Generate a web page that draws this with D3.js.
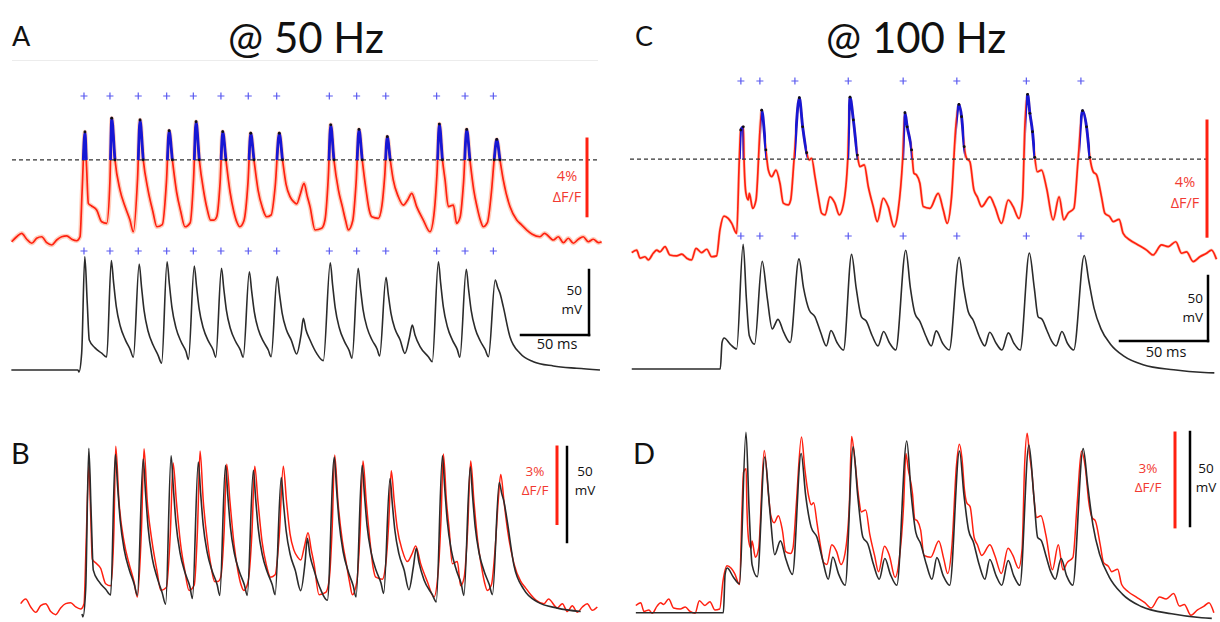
<!DOCTYPE html>
<html>
<head>
<meta charset="utf-8">
<script src="https://cdn.jsdelivr.net/npm/d3@7"></script>
<style>
  body { margin: 0; background: #fff; }
  svg { display: block; }
</style>
</head>
<body>
<script>
// ---- data (time in ms, Vm in mV, fluorescence in % dF/F) ----

// 50 Hz train: membrane potential
const vm50 = [
  [1,-65],[50,-65],[50.7,-66.5],[52.7,-52],[55,22.2],[56.8,-13.5],[58.3,-41.9],[62.5,-48],[67.4,-52],[71.1,-55],
  [74.5,19.1],[76.2,2],[78.1,-15.8],[81.1,-31.4],[84.8,-41.8],[88.4,-49.3],[90.7,-55.2],
  [95,16.5],[96.7,-1],[98.6,-19.4],[101.6,-35.4],[105.3,-46],[108.9,-53.7],[111.5,-59.8],
  [115.5,18.3],[117.2,1],[119.1,-17],[122.1,-32.8],[125.8,-43.3],[129.4,-50.8],[131.2,-56.8],
  [135.5,15],[137.2,-1.1],[139.1,-18],[142.1,-32.7],[145.8,-42.6],[149.4,-49.6],[151.3,-55.2],
  [155.5,13.2],[157.2,-2.5],[159.1,-19],[162.1,-33.3],[165.8,-42.9],[169.4,-49.7],[171.5,-55.2],
  [176,10.6],[177.7,-4.4],[179.6,-20.1],[182.6,-33.9],[186.3,-43],[189.9,-49.6],[192,-54.8],
  [196.5,6.8],[198.2,-6.9],[200.1,-21.2],[203.1,-33.7],[206.8,-42],[210.8,-52.7],[214,-38],[215.7,-25.2],
  [217.6,-34],[220.6,-41.9],[225.5,-52.2],[230.4,-57.8],
  [235.5,17.5],[237.2,0.6],[239.1,-17],[242.1,-32.5],[245.8,-42.8],[249.4,-50.1],[251.5,-56],
  [256,13.2],[257.7,-2.3],[259.6,-18.5],[262.6,-32.6],[266.3,-42.1],[269.9,-48.8],[271.8,-54.2],
  [276.5,6.3],[278.2,-7.2],[280.1,-21.2],[283.1,-33.5],[286.8,-41.7],[290.4,-52.2],[293.7,-40],[295.8,-30.4],
  [297.8,-38],[301.5,-47.1],[307.6,-54.8],[310.5,-58.6],
  [315,18.3],[316.7,1.4],[318.6,-16.2],[321.6,-31.7],[325.3,-42],[328.9,-49.3],[330.8,-55.2],
  [335.5,12.5],[337.2,-3],[339.1,-19.1],[342.1,-33.3],[345.8,-42.7],[349.4,-49.4],[351.8,-54.8],
  [356.8,4.2],[358.6,-1.5],[360.3,-6],[362.7,-16.3],[367.6,-39.4],[375,-52.2],[384.8,-58.6],
  [399.5,-61.9],[416.7,-63.7],[433.8,-65]
];

// 50 Hz train: calcium signal
const dff50 = [
  [1.2,-0.09],[4.9,0.17],[8.6,0.35],[12.3,0.04],[16,-0.17],[19.6,0.09],[23.3,0.17],[27,-0.14],[30.7,-0.26],
  [34.3,0],[38,0.17],[41.7,0.21],[45.4,0.04],[49,-0.04],[51.5,0.17],
  [53,2.5],[55.1,5.63],[56.3,3.8],[57.6,1.91],[60,1.77],[63.7,1.56],[67.4,0.95],[71.1,0.87],[73.5,3.1],[74.8,6.34],
  [77.2,4.17],[80.9,2.6],[84.6,1.74],[88.2,1.04],[90.7,0.43],[93.8,3.2],[95.6,6.25],
  [98,4.17],[101.5,2.6],[105,1.5],[108,0.69],[112,0.8],[115,3],[117,5.69],
  [119.4,4.17],[122.5,2.5],[125.5,1.5],[128.7,0.69],[132.5,0.9],[135,3.2],[136.8,6.16],
  [139.2,4.17],[142.5,2.5],[145,1.6],[147.5,1.04],[150,1.04],[152,1.21],[154.5,3],[156.4,5.64],
  [158.8,4.17],[161.8,2.5],[164.5,1.5],[167,0.9],[169,0.69],[172,1],[175,3],[177,5.56],
  [179.4,4.17],[182.4,2.6],[185.5,1.7],[188.7,1.21],[192,1.3],[195,2.8],[198,5.56],
  [200.4,4.17],[203,2.9],[205.9,2.26],[208.5,2],[210.8,1.88],[213.5,2.4],[216.2,2.95],[218.5,2.3],[220.6,1.74],
  [224.3,0.52],[229.2,0.61],[231.6,1.04],[234,3.2],[235.8,6],
  [238.2,4.17],[241.5,2.6],[244.5,1.7],[246.8,1],[248.8,0.52],[252,1],[254.5,3],[256.6,5.76],
  [259,4.17],[262,2.5],[264,1.6],[266,1.21],[270.8,1.13],[273.5,1.8],[275.5,3.3],[277.4,5.38],
  [279.6,4.17],[281.8,3.13],[285.5,2.26],[289.2,1.82],[292.5,2.1],[295.4,2.43],[299,1.74],[303.9,1.04],
  [308.8,0.43],[312,1.5],[314,3.5],[315.7,6.04],
  [318,4.17],[319.9,3.13],[322.3,1.74],[326,1.82],[328.4,0.87],[331,1.2],[333.5,3],[335.8,5.76],
  [338.2,4.17],[341,2.6],[343.5,1.7],[346,1],[348,0.69],[351,0.9],[354,2.5],[356,4.17],[357.9,5.24],
  [360.3,4.17],[362.7,3.13],[367.6,1.74],[372.6,1.04],[376,0.8],[380,0.52],[384,0.3],[389.7,0.17],[393,0.35],
  [399.5,0],[403.2,0.17],[406.9,-0.14],[410.5,0.09],[414.2,-0.17],[417.9,0.04],[421.5,0.17],[425.2,-0.09],
  [428.9,0.04],[432.6,-0.14],[435,-0.09]
];

// 100 Hz train: membrane potential
const vm100 = [
  [1,-65],[51.3,-65],[52.3,-44.6],[53.5,-41.2],[57,-46],[60.6,-49.6],[64.3,31],[66.1,-10.4],[67.8,-39.4],[70.8,-45.9],
  [75.1,17.8],[78,-10.4],[80.8,-34.1],[84.1,-26.8],[87.3,-36.7],[91,-44.6],
  [96,19.7],[98.6,-2.6],[101.8,-19.6],[105.1,-24.9],[108.3,-36.7],[111.6,-47.2],[114.2,-35.4],[117.6,-44.6],[121.3,-50.4],
  [125.9,23.2],[128.5,-2.6],[131.5,-24.9],[134.3,-28.3],[137.6,-39.4],[140.9,-47.2],[144.1,-36.2],[147.3,-44.6],[151,-50.4],
  [156.7,26.3],[159.3,-2.6],[161.9,-22.3],[164.7,-28.3],[168,-39.4],[171.2,-47.2],[174,-35.7],[177.7,-45.4],[181.4,-50.4],
  [187,21],[189.6,-2.6],[192.2,-21],[195,-27.5],[198.3,-39.4],[201.6,-47.2],[204.4,-36.7],[208.1,-45.4],[211.3,-50.4],
  [215,-37.2],[218.2,-45.4],[221.7,-50.4],
  [226.9,24.2],[229.7,-2.6],[231.9,-24.9],[234.1,-26.8],[236.9,-35.4],[239.5,-43.3],[242.1,-47.2],[245.4,-36.2],
  [248.6,-45.4],[252.1,-50.4],
  [258.1,22.3],[260.7,2.7],[263.7,-18.4],[267.6,-34.1],[273,-45.9],[280.6,-55.1],[291.5,-61.7],[308.9,-65.6],
  [326.2,-67.7],[332,-68]
];

// 100 Hz train: calcium signal
const dff100 = [
  [1,0.08],[3.8,0.17],[5.7,-0.11],[8.5,-0.06],[10.4,-0.17],[13.2,0.06],[15.2,0.17],[17,0.11],[19.9,0.29],[22.7,0],
  [26.5,-0.03],[29.4,0.03],[32.2,-0.11],[35,-0.17],[37.5,0.23],[40.7,0.08],[43.6,0.2],[46.4,-0.06],[49.2,-0.03],
  [51.1,0.87],[53.4,1.35],[55.8,1.27],[57.8,1.1],[60.6,0.75],[62.1,3.3],[62.9,4.34],[64.4,4.45],[64.8,3.3],
  [65.9,2.14],[67.2,1.91],[67.8,2.14],[69.7,1.62],[71.6,1.91],[74.8,5.03],[77.2,3.65],[78.6,2.95],[80.5,2.72],
  [82.9,2.95],[85.2,2.49],[87.1,1.8],[89.9,1.74],[91.3,1.91],[93.2,3.3],[96.2,5.46],[98.1,4.45],[100.4,3.55],
  [101.8,3.3],[103.2,3.36],[105.1,2.72],[107,2.02],[108.9,1.45],[110.8,1.39],[113.6,2.02],[116.4,1.8],[118.9,1.39],
  [121.2,1.74],[123.7,3.3],[125,5.48],[126.9,4.69],[129.2,3.47],[130.6,3.07],[133.1,3.13],[135.4,2.37],[138.2,1.68],
  [140.5,1.16],[143.9,1.97],[146.7,1.68],[150,0.98],[152.4,1.56],[154.9,3.3],[156.2,4.94],[157.5,4.45],[160,3.65],
  [161.3,2.84],[162.8,2.78],[164.7,2.49],[166.6,1.68],[170.4,1.62],[175.1,2.14],[178,1.56],[180.2,1.1],[182.7,2.02],
  [185.2,4.51],[186.9,5.23],[188.4,4.8],[189.9,3.76],[191.2,3.36],[193.1,3.24],[195.4,2.26],[197.3,2.02],[199.8,1.68],
  [204.5,2.02],[207.3,1.68],[211.1,1.1],[214.9,1.91],[217.7,1.68],[221,1.27],[223,1.91],[224.4,4.51],[225.9,5.58],
  [227.2,4.92],[228.7,4.28],[230,3.39],[231.4,2.89],[233.8,2.95],[236.7,2.32],[240.4,1.22],[243.8,2.02],[246.5,1.22],
  [248.9,1.45],[252.2,1.62],[254.6,3.3],[257.1,5.01],[259.4,4.45],[261.3,3.39],[263.2,2.89],[265.1,2.78],[267.9,2.02],
  [269.8,1.45],[272.6,1.33],[274.5,1.16],[277.9,1.24],[280.2,0.75],[284,0.52],[288.7,0.35],[293.5,0.17],[297.2,0],
  [302,0.35],[305.8,0.29],[310.1,0.46],[313.4,0.06],[316.2,0.11],[320,-0.23],[323.8,-0.06],[327.6,0.06],
  [330.4,0.17],[333.2,-0.15]
];

// detected events (stimulus-locked markers), ms
const marks50 = [54.4, 73.5, 94.3, 115.2, 134.8, 155.1, 175.2, 196.1, 234.8, 254.9, 276.3, 313.7, 334.6, 355.4];
const marks100 = [63, 73.8, 93.7, 124, 155.2, 185.7, 225.2, 256.2];

// event windows shown in blue, ms
const events50 = [[0, 440]];
const events100 = [[62.5, 64.5], [74.3, 77.3], [93.7, 100.5], [123.9, 129.3], [155.4, 160.1], [185.6, 190], [224.9, 230.1], [255.6, 261.4]];

// detection thresholds, % dF/F
const thr50 = 4.17;
const thr100 = 3.33;

// ---- drawing ----
const RED = '#ff2010';
const RED_TXT = '#f23a32';
const RAW = '#ffa07c';
const BLUE = '#1717d4';
const MARK = '#5a5af0';
const INK = '#2b2b2b';

const svg = d3.select('body').append('svg').attr('width', 1220).attr('height', 622);
const defs = svg.append('defs');

const lineOf = (x, y) => d3.line().x(d => x(d[0])).y(d => y(d[1])).curve(d3.curveMonotoneX);

function label(txt, x, y, size, opts = {}) {
  return svg.append('text')
    .attr('x', x).attr('y', y)
    .attr('font-family', opts.family || "'Open Sans', 'Noto Sans', sans-serif")
    .attr('font-size', size)
    .attr('text-anchor', opts.anchor || 'start')
    .attr('fill', opts.fill || '#111')
    .text(txt);
}

function bar(x1, y1, x2, y2, color, w) {
  svg.append('line').attr('x1', x1).attr('y1', y1).attr('x2', x2).attr('y2', y2)
    .attr('stroke', color).attr('stroke-width', w).attr('stroke-linecap', 'square');
}

function topPanel(o) {
  const g = svg.append('g');
  const yThr = o.yF(o.thr);

  // raw signal haze + filtered trace
  g.append('path').datum(o.dff).attr('d', lineOf(o.x, o.yF))
    .attr('fill', 'none').attr('stroke', RAW).attr('stroke-width', o.haze).attr('opacity', 0.5)
    .attr('stroke-linejoin', 'round');
  g.append('path').datum(o.dff).attr('d', lineOf(o.x, o.yF))
    .attr('fill', 'none').attr('stroke', RED).attr('stroke-width', 1.7).attr('stroke-linejoin', 'round');

  // threshold
  g.append('line').attr('x1', o.x0).attr('x2', o.x1).attr('y1', yThr).attr('y2', yThr)
    .attr('stroke', '#333').attr('stroke-width', 1.3).attr('stroke-dasharray', '4,3');

  // supra-threshold event segments
  const clip = defs.append('clipPath').attr('id', o.id + '-ev');
  clip.selectAll('rect').data(o.events).join('rect')
    .attr('x', d => o.x(d[0])).attr('width', d => o.x(d[1]) - o.x(d[0]))
    .attr('y', 0).attr('height', yThr);
  g.append('path').datum(o.dff).attr('d', lineOf(o.x, o.yF))
    .attr('clip-path', `url(#${o.id}-ev)`)
    .attr('fill', 'none').attr('stroke', BLUE).attr('stroke-width', 2.8).attr('stroke-linejoin', 'round');
  const inEv = d => d[1] >= o.thr && o.events.some(w => d[0] >= w[0] && d[0] <= w[1]);
  g.append('g').selectAll('circle').data(o.dff.filter(inEv)).join('circle')
    .attr('cx', d => o.x(d[0])).attr('cy', d => o.yF(d[1])).attr('r', 1.4).attr('fill', '#111');

  // voltage
  g.append('path').datum(o.vm).attr('d', lineOf(o.x, o.yV))
    .attr('fill', 'none').attr('stroke', INK).attr('stroke-width', 1.6).attr('stroke-linejoin', 'round');

  // event markers
  o.markRows.forEach(yy => {
    g.append('g').selectAll('path').data(o.marks).join('path')
      .attr('d', t => `M${o.x(t) - 3.5},${yy}h7M${o.x(t)},${yy - 3.5}v7`)
      .attr('stroke', MARK).attr('stroke-width', 1.2);
  });
}

function overlayPanel(o) {
  const g = svg.append('g');
  const keep = d => d[0] >= o.t0 && d[0] <= o.t1;
  g.append('path').datum(o.dff.filter(keep)).attr('d', lineOf(o.x, o.yF))
    .attr('fill', 'none').attr('stroke', RED).attr('stroke-width', 1.5).attr('stroke-linejoin', 'round');
  g.append('path').datum(o.vm.filter(keep)).attr('d', lineOf(o.x, o.yV))
    .attr('fill', 'none').attr('stroke', INK).attr('stroke-width', 1.6).attr('stroke-linejoin', 'round');
}

// panel A (50 Hz)
const xA = d3.scaleLinear().domain([0, 100]).range([10, 146]);
const yVA = d3.scaleLinear().domain([-65, 0]).range([370, 285.5]);
const yFA = d3.scaleLinear().domain([0, 4]).range([240, 163.2]);
topPanel({ id: 'A', x: xA, yV: yVA, yF: yFA, vm: vm50, dff: dff50, thr: thr50, events: events50,
  marks: marks50, markRows: [96, 251], x0: 12, x1: 598, haze: 4.5 });

// panel C (100 Hz)
const xC = d3.scaleLinear().domain([0, 100]).range([630, 806]);
const yVC = d3.scaleLinear().domain([-65, 0]).range([369, 284.5]);
const yFC = d3.scaleLinear().domain([0, 4]).range([255, 139.8]);
topPanel({ id: 'C', x: xC, yV: yVC, yF: yFC, vm: vm100, dff: dff100, thr: thr100, events: events100,
  marks: marks100, markRows: [81, 236], x0: 630, x1: 1210, haze: 3 });

// panel B (overlay, 50 Hz)
const xB = d3.scaleLinear().domain([0, 100]).range([14, 150]);
const yVB = d3.scaleLinear().domain([-65, 0]).range([614, 490.5]);
const yFB = d3.scaleLinear().domain([0, 3]).range([608, 531.5]);
overlayPanel({ x: xB, yV: yVB, yF: yFB, vm: vm50, dff: dff50, t0: 2, t1: 430 });

// panel D (overlay, 100 Hz)
const xD = d3.scaleLinear().domain([0, 100]).range([634.1, 808.1]);
const yVD = d3.scaleLinear().domain([-65, 0]).range([612.7, 490.5]);
const yFD = d3.scaleLinear().domain([0, 3]).range([608, 514.1]);
overlayPanel({ x: xD, yV: yVD, yF: yFD, vm: vm100, dff: dff100, t0: 0, t1: 334 });

// ---- scale bars ----
const mV50 = v => yVA(-65) - yVA(-65 + v);
// A
bar(587, 139, 587, 139 + yFA(0) - yFA(4), RED, 3);
bar(589, 270, 589, 270 + mV50(50), '#000', 2.5);
bar(589 - (xA(50) - xA(0)), 335, 589, 335, '#000', 2.5);
label('4%', 567, 181, 14.5, { anchor: 'middle', fill: RED_TXT });
label('\u0394F/F', 567, 202, 14.5, { anchor: 'middle', fill: RED_TXT });
label('50', 582, 295, 13.5, { anchor: 'end' });
label('mV', 582, 314, 13.5, { anchor: 'end' });
label('50 ms', 557, 349, 14.5, { anchor: 'middle' });

// C
bar(1207, 121, 1207, 121 + yFC(0) - yFC(4), RED, 3);
bar(1208, 276, 1208, 276 + yVC(-65) - yVC(-15), '#000', 2.5);
bar(1208 - (xC(50) - xC(0)), 341, 1208, 341, '#000', 2.5);
label('4%', 1185, 187, 14.5, { anchor: 'middle', fill: RED_TXT });
label('\u0394F/F', 1185, 208, 14.5, { anchor: 'middle', fill: RED_TXT });
label('50', 1203, 303, 13.5, { anchor: 'end' });
label('mV', 1203, 322, 13.5, { anchor: 'end' });
label('50 ms', 1166, 357, 14.5, { anchor: 'middle' });

// B
bar(557, 447, 557, 447 + yFB(0) - yFB(3), RED, 3);
bar(567, 447, 567, 447 + yVB(-65) - yVB(-15), '#000', 2.5);
label('3%', 535, 476, 13.5, { anchor: 'middle', fill: RED_TXT });
label('\u0394F/F', 535, 495, 13.5, { anchor: 'middle', fill: RED_TXT });
label('50', 585, 476, 13.5, { anchor: 'middle' });
label('mV', 585, 495, 13.5, { anchor: 'middle' });

// D
bar(1175, 433, 1175, 433 + yFD(0) - yFD(3), RED, 3);
bar(1190, 432, 1190, 432 + yVD(-65) - yVD(-15), '#000', 2.5);
label('3%', 1148, 473, 13.5, { anchor: 'middle', fill: RED_TXT });
label('\u0394F/F', 1148, 492, 13.5, { anchor: 'middle', fill: RED_TXT });
label('50', 1206, 473, 13.5, { anchor: 'middle' });
label('mV', 1206, 492, 13.5, { anchor: 'middle' });

// ---- headings ----
svg.append('line').attr('x1', 12).attr('x2', 598).attr('y1', 60.5).attr('y2', 60.5)
  .attr('stroke', '#ececec').attr('stroke-width', 1);
const headFont = "Lato, 'Open Sans', sans-serif";
label('A', 12, 46, 27, { family: headFont });
label('C', 635, 46, 27, { family: headFont });
label('B', 11, 464, 29, { family: headFont });
label('D', 633, 464, 29, { family: headFont });
label('@ 50 Hz', 228, 53, 42, { family: headFont });
label('@ 100 Hz', 826, 53, 42, { family: headFont });
</script>
</body>
</html>
